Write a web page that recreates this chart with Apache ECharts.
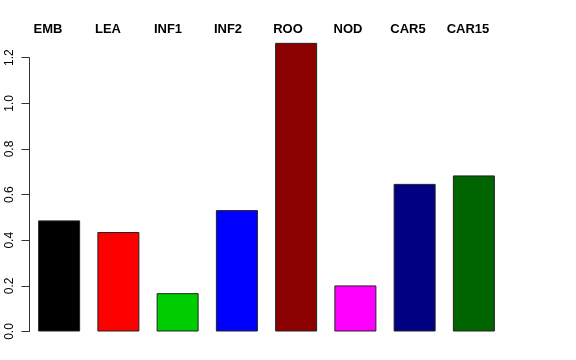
<!DOCTYPE html>
<html>
<head>
<meta charset="utf-8">
<script src="https://cdn.jsdelivr.net/npm/echarts@6/dist/echarts.min.js"></script>
<style>html,body{margin:0;padding:0;background:#fff;}#c{width:576px;height:360px;}</style>
</head>
<body>
<div id="c"></div>
<script>
var categories = ["EMB", "LEA", "INF1", "INF2", "ROO", "NOD", "CAR5", "CAR15"];
var values = [0.487, 0.436, 0.168, 0.532, 1.265, 0.202, 0.647, 0.684];
var colors = ["#000000", "#FF0000", "#00CD00", "#0000FF", "#8B0000", "#FF00FF", "#000080", "#006400"];
var yTicks = [0, 0.2, 0.4, 0.6, 0.8, 1.0, 1.2];

var chart = echarts.init(document.getElementById('c'), null, {renderer: 'canvas'});
var FONT = '"Liberation Sans", Arial, Helvetica, sans-serif';
chart.setOption({
  animation: false,
  backgroundColor: '#ffffff',
  grid: [
    {left: 29.5, right: 72.5, top: 57.7, bottom: 28.5},
    {left: 18, right: 78, top: 57.7, bottom: 28.5}
  ],
  xAxis: [
    {type: 'category', gridIndex: 0, data: categories, boundaryGap: true,
     axisLine: {show: false}, axisTick: {show: false}, axisLabel: {show: false}, splitLine: {show: false}},
    {type: 'category', gridIndex: 1, position: 'top', data: categories, boundaryGap: true,
     axisLine: {show: false}, axisTick: {show: false}, splitLine: {show: false},
     axisLabel: {show: true, color: '#000', fontWeight: 'bold', fontSize: 13, fontFamily: FONT, margin: 22}}
  ],
  yAxis: [
    {type: 'value', gridIndex: 0, min: yTicks[0], max: yTicks[yTicks.length - 1], interval: 0.2,
     axisLine: {show: true, lineStyle: {color: '#333', width: 1}},
     axisTick: {show: true, inside: false, length: 8, lineStyle: {color: '#333', width: 1}},
     splitLine: {show: false},
     axisLabel: {show: true, rotate: 90, margin: 14, color: '#000', fontSize: 12, fontFamily: FONT,
       formatter: function (v) { return v.toFixed(1); }}},
    {type: 'value', gridIndex: 1, min: 0, max: 1.2, show: false}
  ],
  series: [{
    type: 'bar',
    xAxisIndex: 0,
    yAxisIndex: 0,
    barWidth: 42,
    clip: false,
    data: values.map(function (v, i) {
      return {value: v, itemStyle: {color: colors[i], borderColor: '#222', borderWidth: 1}};
    })
  }]
});
</script>
</body>
</html>
